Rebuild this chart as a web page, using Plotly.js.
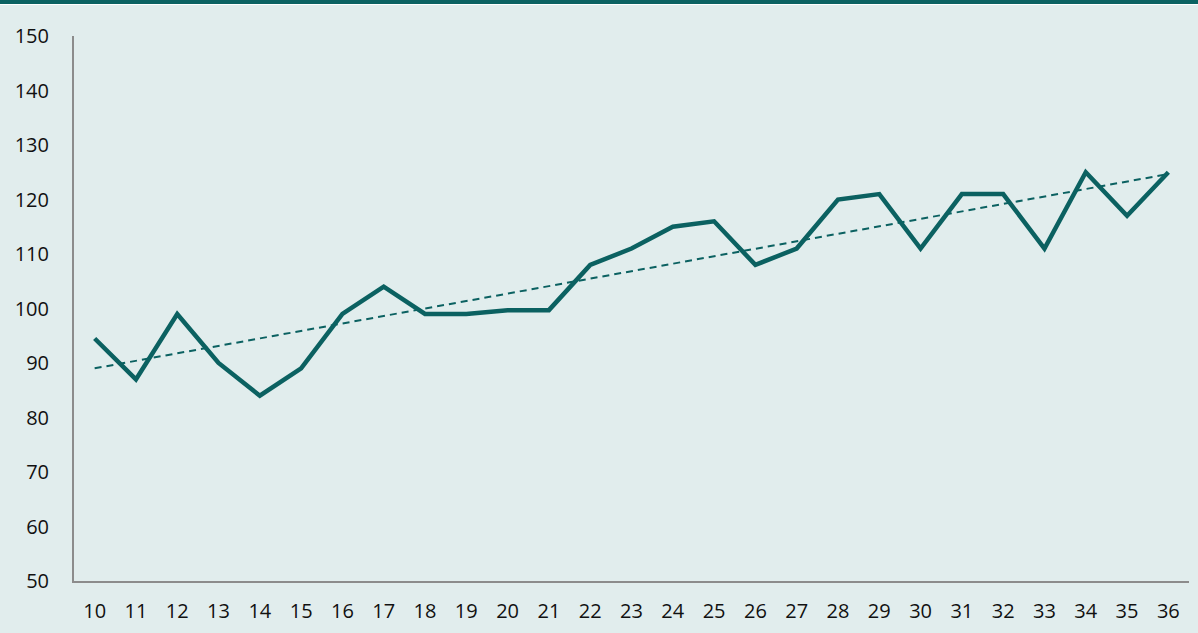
<!DOCTYPE html>
<html>
<head>
<meta charset="utf-8">
<script src="https://cdn.plot.ly/plotly-3.0.1.min.js"></script>
<style>
  html, body { margin: 0; padding: 0; background: #e1eded; }
  #chart { width: 1198px; height: 633px; }
  #band { position: absolute; left: 0; top: 0; width: 1198px; height: 4px; background: #0b6262; border-bottom: 1px solid #ffffff; z-index: 10; }
</style>
</head>
<body>
<div id="band"></div>
<div id="chart"></div>
<script>
const categories = ["10","11","12","13","14","15","16","17","18","19","20","21","22","23","24","25","26","27","28","29","30","31","32","33","34","35","36"];
const values = [94.5, 87, 99, 90, 84, 89, 99, 104, 99, 99, 99.7, 99.7, 108, 111, 115, 116, 108, 111, 120, 121, 111, 121, 121, 111, 125, 117, 125];
const yTicks = [50, 60, 70, 80, 90, 100, 110, 120, 130, 140, 150];

// linear trend line (least squares) computed from the series
const n = values.length;
const xs = values.map((_, i) => i);
const mx = xs.reduce((a, b) => a + b, 0) / n;
const my = values.reduce((a, b) => a + b, 0) / n;
let sxy = 0, sxx = 0;
for (let i = 0; i < n; i++) { sxy += (xs[i] - mx) * (values[i] - my); sxx += (xs[i] - mx) * (xs[i] - mx); }
const slope = sxy / sxx;
const intercept = my - slope * mx;
const trend = xs.map(x => intercept + slope * x);

const lineColor = '#0b6161';

const data = [
  { x: categories, y: trend, type: 'scatter', mode: 'lines', line: { color: lineColor, width: 2, dash: '7px,5px' }, hoverinfo: 'skip' },
  { x: categories, y: values, type: 'scatter', mode: 'lines', line: { color: lineColor, width: 4.5 } }
];

const layout = {
  width: 1198, height: 633,
  paper_bgcolor: '#e1eded', plot_bgcolor: '#e1eded',
  margin: { l: 74, r: 9, t: 36, b: 52 },
  showlegend: false,
  font: { family: 'Open Sans, sans-serif', size: 20, color: '#111111' },
  xaxis: {
    type: 'category', range: [-0.5, 26.5],
    showgrid: false, zeroline: false,
    showline: true, linecolor: '#8c8c8c', linewidth: 2,
    ticks: '', ticklabelstandoff: 11,
    tickfont: { size: 20 }
  },
  yaxis: {
    range: [50, 150], tickvals: yTicks, ticktext: yTicks.map(String),
    showgrid: false, zeroline: false,
    showline: true, linecolor: '#8c8c8c', linewidth: 2,
    ticks: '', ticklabelstandoff: 19,
    tickfont: { size: 20 }
  }
};

Plotly.newPlot('chart', data, layout, { staticPlot: true, displayModeBar: false });
</script>
</body>
</html>
